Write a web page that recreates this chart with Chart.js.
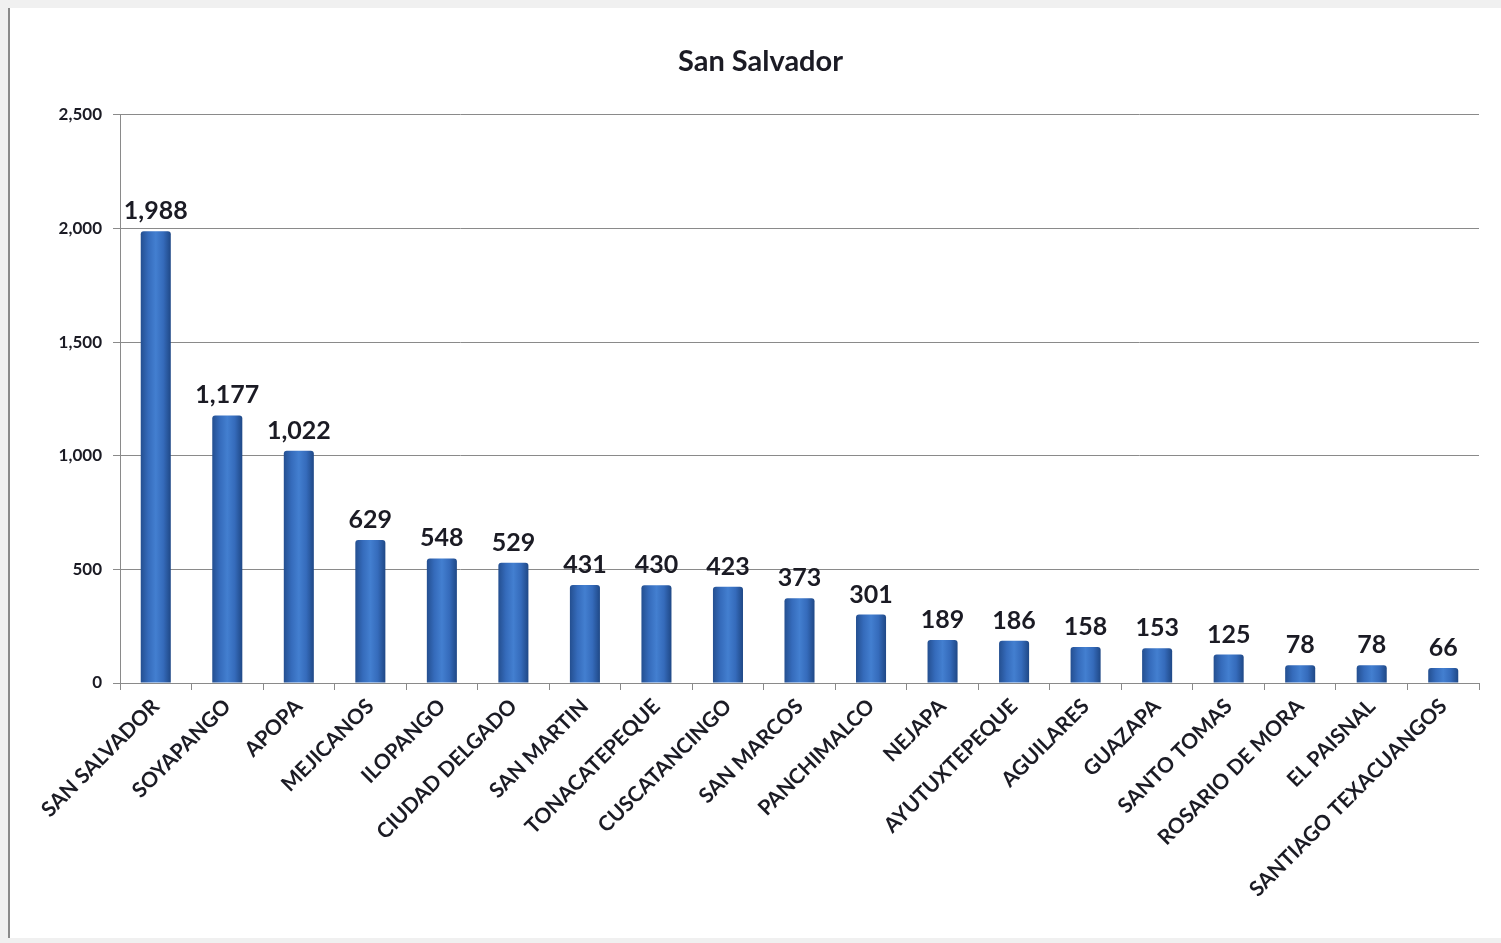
<!DOCTYPE html>
<html>
<head>
<meta charset="utf-8">
<script src="https://cdn.jsdelivr.net/npm/chart.js@4/dist/chart.umd.min.js"></script>
<style>
  html, body { margin: 0; padding: 0; background: #f0f0f0; width: 1501px; height: 943px; overflow: hidden; }
  #wrap { position: absolute; left: 8px; top: 8px; width: 1493px; height: 930px; background: #ffffff; border-left: 2px solid #8a8a8a; }
  canvas { display: block; }
</style>
</head>
<body>
<div id="wrap"><canvas id="c" width="1493" height="930"></canvas></div>
<script>
const chartTitle = "San Salvador";
const categories = ["SAN SALVADOR","SOYAPANGO","APOPA","MEJICANOS","ILOPANGO","CIUDAD DELGADO","SAN MARTIN","TONACATEPEQUE","CUSCATANCINGO","SAN MARCOS","PANCHIMALCO","NEJAPA","AYUTUXTEPEQUE","AGUILARES","GUAZAPA","SANTO TOMAS","ROSARIO DE MORA","EL PAISNAL","SANTIAGO TEXACUANGOS"];
const values = [1988,1177,1022,629,548,529,431,430,423,373,301,189,186,158,153,125,78,78,66];
const yTicks = [0,500,1000,1500,2000,2500];

const FONT = "Lato, 'Open Sans', 'DejaVu Sans', sans-serif";
const BAR_PCT = 0.42;

function barFill(ctx) {
  const chart = ctx.chart;
  const xs = chart.scales.x;
  if (!chart.chartArea || !xs || ctx.dataIndex === undefined) return '#3a72c4';
  const cx = xs.getPixelForValue(ctx.dataIndex);
  const w = (xs.width / categories.length) * BAR_PCT;
  const g = chart.ctx.createLinearGradient(cx - w / 2, 0, cx + w / 2, 0);
  g.addColorStop(0, '#244f90');
  g.addColorStop(0.25, '#356bbb');
  g.addColorStop(0.5, '#437fd0');
  g.addColorStop(0.75, '#356bbb');
  g.addColorStop(1, '#1f4886');
  return g;
}

const valueLabels = {
  id: 'valueLabels',
  afterDatasetsDraw(chart) {
    const c = chart.ctx;
    const meta = chart.getDatasetMeta(0);
    c.save();
    c.font = "bold 25px " + FONT;
    c.fillStyle = '#1b1b24';
    c.textAlign = 'center';
    c.textBaseline = 'alphabetic';
    meta.data.forEach((el, i) => {
      c.fillText(values[i].toLocaleString('en-US'), el.x, el.y - 12);
    });
    c.restore();
  }
};

new Chart(document.getElementById('c'), {
  type: 'bar',
  data: {
    labels: categories,
    datasets: [{
      data: values,
      backgroundColor: barFill,
      borderWidth: 0,
      borderRadius: { topLeft: 3, topRight: 3, bottomLeft: 0, bottomRight: 0 },
      borderSkipped: 'bottom',
      barPercentage: BAR_PCT,
      categoryPercentage: 1.0
    }]
  },
  options: {
    responsive: false,
    animation: false,
    events: [],
    layout: { padding: { left: 32, right: 24, top: 0, bottom: 0 } },
    plugins: {
      legend: { display: false },
      tooltip: { enabled: false },
      title: {
        display: true,
        text: chartTitle,
        color: '#1b1b24',
        font: { family: FONT, size: 29, weight: 'bold' },
        padding: { top: 36, bottom: 36 }
      }
    },
    scales: {
      x: {
        grid: { display: true, drawOnChartArea: false, drawTicks: true, tickLength: 7, color: '#8a8a8a', offset: true },
        border: { display: true, color: '#8a8a8a', width: 1 },
        ticks: {
          autoSkip: false,
          maxRotation: 45,
          minRotation: 45,
          padding: 4,
          color: '#1b1b24',
          font: { family: FONT, size: 21, weight: 'bold' }
        },
        afterFit(scale) { scale.height = 255; }
      },
      y: {
        min: 0,
        max: 2500,
        afterBuildTicks(scale) { scale.ticks = yTicks.map(v => ({ value: v })); },
        grid: { color: '#8a8a8a', tickLength: 7, drawTicks: true },
        border: { display: true, color: '#8a8a8a', width: 1 },
        ticks: {
          padding: 11,
          color: '#1b1b24',
          font: { family: FONT, size: 17, weight: 'bold' },
          callback: v => v.toLocaleString('en-US')
        },
        afterFit(scale) { scale.width = 78; }
      }
    }
  },
  plugins: [valueLabels]
});
</script>
</body>
</html>
